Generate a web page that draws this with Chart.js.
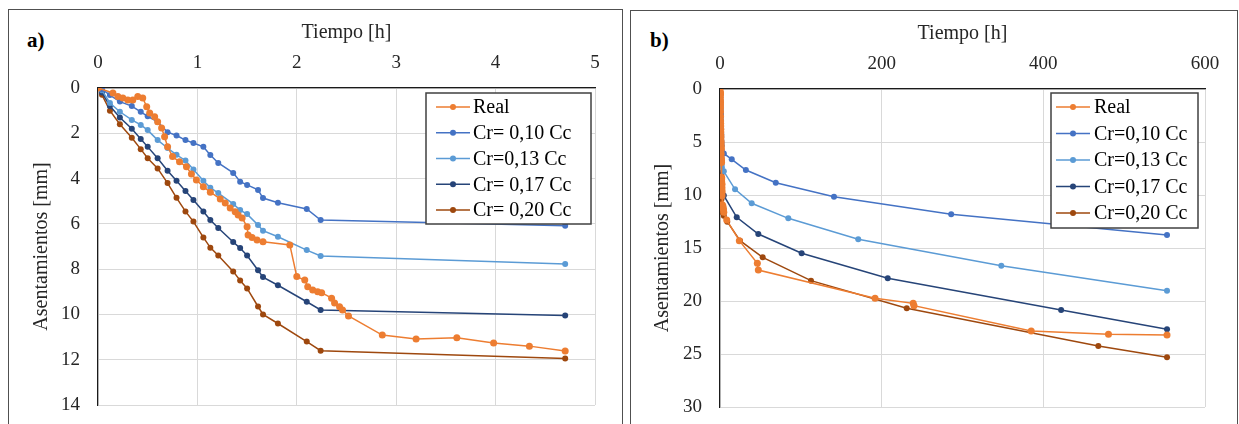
<!DOCTYPE html>
<html>
<head>
<meta charset="utf-8">
<script src="https://cdn.jsdelivr.net/npm/chart.js@4.4.0/dist/chart.umd.min.js"></script>
<style>
  html, body { margin: 0; padding: 0; background: #fff; width: 1239px; height: 424px; overflow: hidden; }
  .box { position: absolute; border: 1px solid #505050; box-sizing: border-box; }
  .tag { position: absolute; font-family: "Liberation Serif", "Times New Roman", serif; font-weight: bold; font-size: 21px; line-height: 24px; color: #000; }
  canvas { position: absolute; }
</style>
</head>
<body>
<div class="box" style="left:8px; top:9px; width:615px; height:440px;"></div>
<div class="box" style="left:630px; top:10px; width:608px; height:440px;"></div>
<div class="tag" style="left:27px; top:28px;">a)</div>
<div class="tag" style="left:650px; top:28px;">b)</div>
<canvas id="chartA" width="612" height="430" style="left:9px; top:10px;"></canvas>
<canvas id="chartB" width="604" height="431" style="left:631px; top:11px;"></canvas>
<script>
// ---------- data ----------
const labelsA = ["Real", "Cr= 0,10 Cc", "Cr=0,13 Cc", "Cr= 0,17 Cc", "Cr= 0,20 Cc"];
const labelsB = ["Real", "Cr=0,10 Cc", "Cr=0,13 Cc", "Cr=0,17 Cc", "Cr=0,20 Cc"];
const colors = ["#ED7D31", "#4472C4", "#5B9BD5", "#264478", "#9E480E"];

// measured settlement (first hours)
const tReal = [0,0.15,0.2,0.25,0.3,0.35,0.4,0.45,0.49,0.52,0.57,0.6,0.64,0.67,0.7,0.75,0.82,0.89,0.94,0.99,1.06,1.13,1.23,1.28,1.33,1.38,1.41,1.45,1.5,1.51,1.55,1.6,1.66,1.93,2.0,2.08,2.11,2.16,2.21,2.25,2.35,2.38,2.43,2.46,2.52,2.86,3.2,3.61,3.98,4.34,4.7];
const sReal = [0,0.22,0.38,0.44,0.53,0.53,0.38,0.44,0.83,1.1,1.27,1.49,1.77,2.15,2.59,3.03,3.26,3.48,3.8,4.06,4.36,4.6,4.9,5.08,5.3,5.46,5.61,5.74,6.13,6.49,6.6,6.71,6.79,6.93,8.33,8.48,8.78,8.92,9.0,9.04,9.28,9.5,9.66,9.8,10.07,10.91,11.09,11.03,11.26,11.4,11.62];

// model times (first hours) and settlements
const tModel = [0,0.04,0.12,0.22,0.34,0.43,0.5,0.6,0.7,0.79,0.88,0.96,1.06,1.13,1.21,1.36,1.43,1.5,1.61,1.66,1.81,2.1,2.24,4.7];
const sCr10 = [0,0.05,0.31,0.6,0.8,1.05,1.25,1.5,1.95,2.1,2.3,2.43,2.6,2.96,3.31,3.75,4.14,4.28,4.5,4.86,5.07,5.34,5.83,6.08];
const sCr13 = [0,0.1,0.66,1.05,1.41,1.63,1.86,2.3,2.65,2.95,3.2,3.6,4.1,4.4,4.64,5.12,5.39,5.57,6.05,6.3,6.57,7.16,7.42,7.77];
const sCr17 = [0,0.2,0.8,1.3,1.8,2.25,2.6,3.1,3.65,4.1,4.55,4.95,5.45,5.83,6.18,6.8,7.07,7.4,8.05,8.35,8.71,9.44,9.8,10.05];
const sCr20 = [0,0.3,1.0,1.6,2.2,2.7,3.1,3.55,4.2,4.85,5.45,5.9,6.6,7.05,7.4,8.1,8.5,8.85,9.65,10.0,10.4,11.2,11.6,11.95];

// long-term continuation (chart b)
const tRealLong = [8.3,23.9,46.2,47.4,191.8,239,240,385,480.6,553];
const sRealLong = [12.36,14.31,16.44,17.08,19.75,20.22,20.44,22.83,23.14,23.2];
const tCr10Long = [14.5,32,69,141,286,553];
const sCr10Long = [6.63,7.64,8.84,10.16,11.82,13.77];
const tCr13Long = [18.6,39.2,84.5,171,348,553];
const sCr13Long = [9.46,10.78,12.2,14.18,16.67,19.03];
const tCr17Long = [20.7,47.4,101,207.5,422,553];
const sCr17Long = [12.1,13.68,15.5,17.86,20.85,22.67];
const tCr20Long = [9,24.8,52.8,112.6,231,468,553];
const sCr20Long = [12.52,14.31,15.88,18.08,20.69,24.25,25.31];

// axis ticks
const xTicksA = {min: 0, max: 5, step: 1};
const yTicksA = {min: 0, max: 14, step: 2};
const xTicksB = {min: 0, max: 600, step: 200};
const yTicksB = {min: 0, max: 30, step: 5};

// ---------- helpers ----------
const pts = (t, s) => t.map((v, i) => ({x: v, y: s[i]}));
const FONT = '"Liberation Serif", "Times New Roman", serif';

function makeDatasets(labels, series) {
  return series.map((d, i) => ({
    label: labels[i],
    data: d,
    showLine: true,
    borderColor: colors[i],
    backgroundColor: colors[i],
    borderWidth: 1.5,
    pointRadius: i === 0 ? 3.5 : 3,
    pointBorderWidth: 0,
    pointBackgroundColor: colors[i],
    tension: 0
  }));
}

const boxLegend = {
  id: 'boxLegend',
  afterDraw(chart, args, o) {
    const ctx = chart.ctx;
    ctx.save();
    ctx.fillStyle = '#fff';
    ctx.fillRect(o.x, o.y, o.w, o.h);
    ctx.strokeStyle = '#404040';
    ctx.lineWidth = 1.5;
    ctx.strokeRect(o.x, o.y, o.w, o.h);
    chart.data.datasets.forEach((ds, i) => {
      const cy = o.y + o.first + i * o.step;
      ctx.strokeStyle = ds.borderColor;
      ctx.lineWidth = 1.5;
      ctx.beginPath(); ctx.moveTo(o.l0, cy); ctx.lineTo(o.l1, cy); ctx.stroke();
      ctx.fillStyle = ds.backgroundColor;
      ctx.beginPath(); ctx.arc((o.l0 + o.l1) / 2, cy, 3, 0, Math.PI * 2); ctx.fill();
      ctx.fillStyle = '#000';
      ctx.font = '20px ' + FONT;
      ctx.textBaseline = 'middle';
      ctx.textAlign = 'left';
      ctx.fillText(ds.label, o.tx, cy + 1);
    });
    ctx.restore();
  }
};

function makeChart(id, datasets, xt, yt, geo) {
  return new Chart(document.getElementById(id), {
    type: 'scatter',
    data: {datasets},
    plugins: [boxLegend],
    options: {
      responsive: false,
      animation: false,
      layout: {padding: {left: 0, top: 0, right: geo.padR, bottom: geo.padB}},
      plugins: {
        legend: {display: false},
        tooltip: {enabled: false},
        boxLegend: geo.legend
      },
      scales: {
        x: {
          type: 'linear', position: 'top', min: xt.min, max: xt.max,
          afterFit: s => { s.height = geo.xH; },
          ticks: {stepSize: xt.step, padding: 14, color: '#262626', font: {family: FONT, size: 19}},
          grid: {color: '#d9d9d9', lineWidth: 1, drawTicks: false},
          border: {display: true, color: '#1a1a1a', width: 1.2},
          title: {display: true, text: 'Tiempo [h]', color: '#262626', font: {family: FONT, size: 20}, padding: {top: 11, bottom: 0}}
        },
        y: {
          type: 'linear', position: 'left', reverse: true, min: yt.min, max: yt.max,
          afterFit: s => { s.width = geo.yW; },
          ticks: {stepSize: yt.step, padding: 18, color: '#262626', font: {family: FONT, size: 19}},
          grid: {color: '#d9d9d9', lineWidth: 1, drawTicks: false},
          border: {display: true, color: '#1a1a1a', width: 1.2},
          title: {display: true, text: 'Asentamientos [mm]', color: '#262626', font: {family: FONT, size: 20}, padding: {top: geo.yTitlePad, bottom: 0}}
        }
      }
    }
  });
}

const seriesA = [pts(tReal, sReal), pts(tModel, sCr10), pts(tModel, sCr13), pts(tModel, sCr17), pts(tModel, sCr20)];
const seriesB = [
  pts(tReal.concat(tRealLong), sReal.concat(sRealLong)),
  pts(tModel.concat(tCr10Long), sCr10.concat(sCr10Long)),
  pts(tModel.concat(tCr13Long), sCr13.concat(sCr13Long)),
  pts(tModel.concat(tCr17Long), sCr17.concat(sCr17Long)),
  pts(tModel.concat(tCr20Long), sCr20.concat(sCr20Long))
];

makeChart('chartA', makeDatasets(labelsA, seriesA), xTicksA, yTicksA, {
  padR: 26, padB: 35, xH: 78, yW: 89, yTitlePad: 21,
  legend: {x: 417, y: 83, w: 165, h: 131, first: 14, step: 25.75, l0: 427, l1: 461, tx: 464}
});
makeChart('chartB', makeDatasets(labelsB, seriesB), xTicksB, yTicksB, {
  padR: 30, padB: 35, xH: 78, yW: 89, yTitlePad: 20,
  legend: {x: 420, y: 82, w: 147, h: 135, first: 14, step: 26.5, l0: 425, l1: 459, tx: 463}
});
</script>
</body>
</html>
